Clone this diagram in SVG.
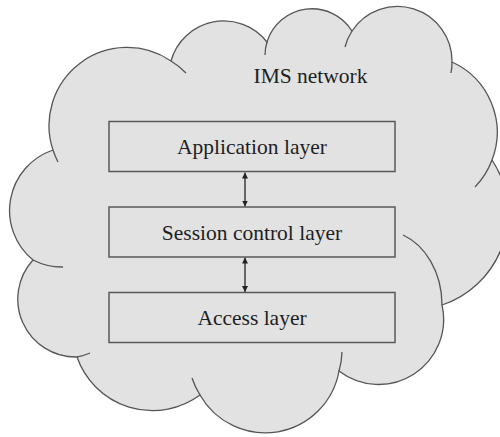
<svg xmlns="http://www.w3.org/2000/svg" width="500" height="437" viewBox="0 0 500 437">
  <defs>
    <style>
      .cloud { fill: #e2e2e2; stroke: #555; stroke-width: 1.3; }
      .tail { fill: none; stroke: #555; stroke-width: 1.3; }
      .box { fill: none; stroke: #5a5a5a; stroke-width: 1.5; }
      .lbl { font-family: "Liberation Serif", "Times New Roman", serif; font-size: 21.5px; fill: #1e1e1e; text-anchor: middle; }
      .conn { stroke: #333; stroke-width: 1.4; fill: none; marker-start: url(#ah); marker-end: url(#ah); }
    </style>
    <marker id="ah" viewBox="0 0 10 10" refX="10" refY="5" markerWidth="6" markerHeight="6" markerUnits="userSpaceOnUse" orient="auto-start-reverse">
      <path d="M0,0 L10,5 L0,10 z" fill="#222"/>
    </marker>
  </defs>
  <rect width="500" height="437" fill="#fff"/>
  <g id="cloud">
    <path class="cloud" d="M33,260 A63.9,63.9 0 0 1 53,150 A78,78 0 0 1 171,61 A54.8,54.8 0 0 1 267,42 A47.1,47.1 0 0 1 352,31 A54.5,54.5 0 0 1 452,62 A77.2,77.2 0 0 1 492,160 A96.6,96.6 0 0 1 442,305 A65,65 0 0 1 339,371 A75,75 0 0 1 200,395 A80,80 0 0 1 77,357 A57.9,57.9 0 0 1 33,260 Z"/>
    <path class="tail" d="M53,150 A78,78 0 0 0 58,162"/>
    <path class="tail" d="M171,61 A78,78 0 0 1 186,73"/>
    <path class="tail" d="M267,42 A47.1,47.1 0 0 0 265,55"/>
    <path class="tail" d="M352,31 A54.5,54.5 0 0 0 345,47"/>
    <path class="tail" d="M452,62 A54.5,54.5 0 0 1 451,73"/>
    <path class="tail" d="M492,160 A77.2,77.2 0 0 1 475,187"/>
    <path class="tail" d="M442,305 C442,272 425,245 403,235"/>
    <path class="tail" d="M339,371 A75,75 0 0 0 342,352"/>
    <path class="tail" d="M200,395 A75,75 0 0 1 192,378"/>
    <path class="tail" d="M77,357 A57.9,57.9 0 0 0 90,353"/>
    <path class="tail" d="M33,260 A63.9,63.9 0 0 0 63,267"/>
    <text class="lbl" x="310.5" y="83">IMS network</text>
  </g>
  <g id="connectors">
    <line class="conn" x1="245" y1="172.5" x2="245" y2="206.5"/>
    <line class="conn" x1="245" y1="257.5" x2="245" y2="292"/>
  </g>
  <g id="application-layer">
    <rect class="box" x="109" y="121.5" width="286" height="50"/>
    <text class="lbl" x="252" y="154">Application layer</text>
  </g>
  <g id="session-control-layer">
    <rect class="box" x="109" y="207" width="286" height="50"/>
    <text class="lbl" x="252" y="240">Session control layer</text>
  </g>
  <g id="access-layer">
    <rect class="box" x="109" y="292.5" width="286" height="50"/>
    <text class="lbl" x="252" y="325">Access layer</text>
  </g>
</svg>
